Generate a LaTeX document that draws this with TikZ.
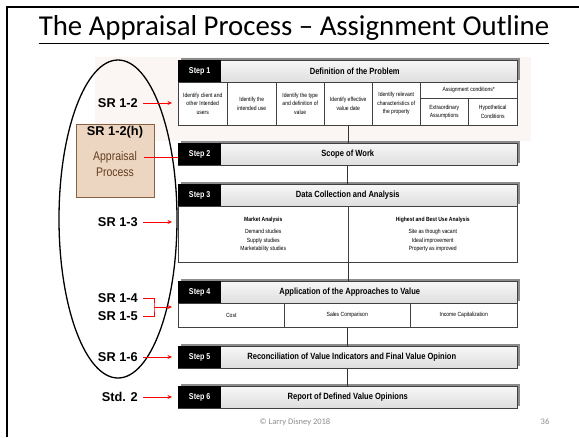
\documentclass[tikz,border=0pt]{standalone}
\usepackage{fontspec}
\setmainfont{Liberation Sans}
\newfontfamily\narrowfont[FakeStretch=0.84]{Liberation Sans}
\newfontfamily\slidefont{Carlito}
\usetikzlibrary{shapes.geometric,shadows,arrows.meta,calc}

\definecolor{paletint}{RGB}{251,246,244}
\definecolor{apfill}{RGB}{236,214,193}
\definecolor{apedge}{RGB}{135,98,68}
\definecolor{aptext}{RGB}{100,62,32}
\definecolor{srred}{RGB}{255,0,0}
\definecolor{footgray}{RGB}{140,140,140}

\tikzset{
  headbar/.style={draw=black!75, line width=0.5pt, top color=black!3, bottom color=black!13,
    minimum width=339pt, minimum height=22pt, anchor=north west, inner sep=0pt,
    font=\narrowfont\bfseries\fontsize{9}{10}\selectfont,
    drop shadow={shadow xshift=2.5pt, shadow yshift=2.5pt, fill=black!45, opacity=1}},
  stepbox/.style={fill=black, text=white, minimum width=43pt, minimum height=22pt,
    anchor=north west, inner sep=0pt, font=\narrowfont\bfseries\fontsize{8.5}{10}\selectfont},
  cell/.style={draw=black!75, line width=0.5pt, fill=white, anchor=north west, align=center,
    inner sep=1pt, font=\narrowfont\fontsize{6}{8.5}\selectfont},
  link/.style={draw=black!80, line width=0.6pt},
  srlabel/.style={anchor=east, inner sep=0pt, font=\bfseries\fontsize{12.8}{14}\selectfont},
  redline/.style={draw=srred, line width=0.9pt},
  redarrow/.style={redline, -{Stealth[length=4.5pt,width=4pt]}},
  footer/.style={text=footgray, inner sep=0pt, font=\slidefont\fontsize{8.5}{10}\selectfont}
}

\begin{document}
\begin{tikzpicture}[x=1pt,y=-1pt]
\useasboundingbox (0,0) rectangle (579,437);

% slide frame and title
\draw[line width=1.5pt] (7,437) -- (7,7) -- (579,7);
\node[anchor=base, inner sep=0pt, font=\slidefont\fontsize{28.8}{33}\selectfont] (title) at (294,35)
  {The Appraisal Process – Assignment Outline};
\draw[line width=1.4pt] ([yshift=-8.5pt]title.base west) -- ([yshift=-8.5pt]title.base east);

% faint backdrop behind the first step
\fill[paletint] (95,57) rectangle (531,141);

% ---- Step 1 ----
\node[headbar] (h1) at (178,60) {\hspace*{14pt}Definition of the Problem};
\node[stepbox] (s1) at (h1.north west) {Step 1};
\node[cell, minimum width=49pt, minimum height=43pt] (c11) at (178,82) {Identify client and\\other Intended\\users};
\node[cell, minimum width=49pt, minimum height=43pt] (c12) at (227,82) {Identify the\\intended use};
\node[cell, minimum width=48pt, minimum height=43pt] (c13) at (276,82) {Identify the type\\and definition of\\value};
\node[cell, minimum width=48pt, minimum height=43pt] (c14) at (324,82) {Identify effective\\value date};
\node[cell, minimum width=48pt, minimum height=43pt] (c15) at (372,82) {Identify relevant\\characteristics of\\the property};
\node[cell, minimum width=97pt, minimum height=16pt] (c16) at (420,82) {Assignment conditions*};
\node[cell, minimum width=48pt, minimum height=27pt] (c17) at (420,98) {Extraordinary\\Assumptions};
\node[cell, minimum width=49pt, minimum height=27pt] (c18) at (468,98) {Hypothetical\\Conditions};

% ---- Step 2 ----
\node[headbar] (h2) at (178,143) {Scope of Work};
\node[stepbox] (s2) at (h2.north west) {Step 2};

% ---- Step 3 ----
\node[headbar] (h3) at (178,184) {Data Collection and Analysis};
\node[stepbox] (s3) at (h3.north west) {Step 3};
\node[cell, minimum width=170pt, minimum height=56pt] (c31) at (178,206)
  {\textbf{Market Analysis}\\[4pt]Demand studies\\Supply studies\\Marketability studies};
\node[cell, minimum width=169pt, minimum height=56pt] (c32) at (348,206)
  {\textbf{Highest and Best Use Analysis}\\[4pt]Site as though vacant\\Ideal improvement\\Property as improved};

% ---- Step 4 ----
\node[headbar] (h4) at (178,281) {\hspace*{4pt}Application of the Approaches to Value};
\node[stepbox] (s4) at (h4.north west) {Step 4};
\node[cell, minimum width=106pt, minimum height=24pt] (c41) at (178,303) {Cost};
\node[cell, minimum width=126pt, minimum height=24pt] (c42) at (284,303) {Sales Comparison};
\node[cell, minimum width=107pt, minimum height=24pt] (c43) at (410,303) {Income Capitalization};

% ---- Step 5 ----
\node[headbar] (h5) at (178,346) {\hspace*{8pt}Reconciliation of Value Indicators and Final Value Opinion};
\node[stepbox] (s5) at (h5.north west) {Step 5};

% ---- Step 6 ----
\node[headbar] (h6) at (178,386) {Report of Defined Value Opinions};
\node[stepbox] (s6) at (h6.north west) {Step 6};

% flow between the steps
\draw[link] (c14.south) -- (c14.south |- h2.north);
\draw[link] (h2.south) -- (h3.north);
\draw[link] (c31.south east) -- (c31.south east |- h4.north);
\draw[link] (c42.south) -- (c42.south |- h5.north);
\draw[link] (h5.south) -- (h6.north);

% ---- standards references on the left ----
\node[draw, ellipse, line width=1.3pt, minimum width=118pt, minimum height=318pt, inner sep=0pt] (oval) at (118,219) {};

\node[srlabel] (sr12) at (138,103) {SR 1-2};
\draw[redarrow, shorten <=5pt, shorten >=6pt] (sr12.east) -- (sr12 -| c11.west);

\node[draw=apedge, fill=apfill, line width=1pt, minimum width=78pt, minimum height=73pt] (apbox) at (115,161) {};
\node[inner sep=0pt, font=\bfseries\fontsize{12.8}{14}\selectfont] (srh) at (115,132) {SR 1-2(h)};
\node[inner sep=0pt, text=aptext, font=\narrowfont\fontsize{12.5}{14}\selectfont] (apword) at (115,157) {Appraisal};
\node[inner sep=0pt, text=aptext, font=\narrowfont\fontsize{12.5}{14}\selectfont] (procword) at (115,172) {Process};
\draw[redline, shorten <=7pt] (apword.east) -- (apword -| h2.west);

\node[srlabel] (sr13) at (138,222) {SR 1-3};
\draw[redarrow, shorten <=5pt, shorten >=6pt] (sr13.east) -- (sr13 -| c31.west);

\node[srlabel] (sr14) at (138,298) {SR 1-4};
\node[srlabel] (sr15) at (138,316) {SR 1-5};
\coordinate (brk) at (154,307);
\draw[redline] ([xshift=5pt]sr14.east) -| (brk) |- ([xshift=5pt]sr15.east);
\draw[redarrow, shorten >=6pt] (brk) -- (brk -| c41.west);

\node[srlabel] (sr16) at (138,357) {SR 1-6};
\draw[redarrow, shorten <=5pt, shorten >=6pt] (sr16.east) -- (sr16 -| h5.west);

\node[srlabel] (std2) at (138,397) {Std. 2};
\draw[redarrow, shorten <=5pt, shorten >=6pt] (std2.east) -- (std2 -| h6.west);

% footer
\node[footer] (copy) at (295,422) {© Larry Disney 2018};
\node[footer] (pageno) at (545,422) {36};
\end{tikzpicture}
\end{document}
